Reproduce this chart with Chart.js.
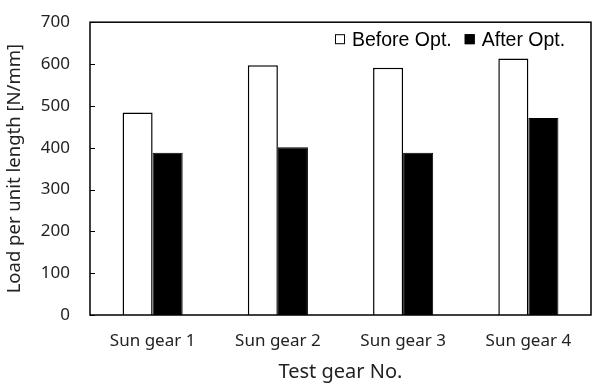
<!DOCTYPE html>
<html>
<head>
<meta charset="utf-8">
<script src="https://cdn.jsdelivr.net/npm/chart.js@4.4.0/dist/chart.umd.min.js"></script>
<style>
  html, body { margin: 0; padding: 0; background: #fff; }
  #chart { display: block; }
</style>
</head>
<body>
<canvas id="chart" width="599" height="386"></canvas>
<script>
// data
const gears = ['Sun gear 1', 'Sun gear 2', 'Sun gear 3', 'Sun gear 4'];
const beforeOpt = [484, 597, 591, 613];
const afterOpt = [388, 401, 388, 471];
const yTicks = [0, 100, 200, 300, 400, 500, 600, 700];

const labelFont = "'Noto Sans', 'DejaVu Sans', sans-serif";

// box round the plot, inward ticks on the y axis, legend inside the plot
const framePlugin = {
    id: 'frame',
    afterDatasetsDraw(chart) {
        const ctx = chart.ctx;
        const a = chart.chartArea;
        const y = chart.scales.y;
        ctx.save();
        ctx.strokeStyle = '#000';
        ctx.lineWidth = 1.5;
        ctx.strokeRect(a.left, a.top, a.right - a.left, a.bottom - a.top);
        ctx.lineWidth = 1;
        yTicks.forEach(v => {
            const py = Math.round(y.getPixelForValue(v)) + 0.5;
            ctx.beginPath();
            ctx.moveTo(a.left, py);
            ctx.lineTo(a.left + 5, py);
            ctx.stroke();
        });

        // legend
        ctx.font = "19.5px 'Liberation Sans', Arial, sans-serif";
        ctx.textBaseline = 'middle';
        const ly = a.top + 17;
        let lx = 335;
        chart.data.datasets.forEach(ds => {
            ctx.fillStyle = ds.backgroundColor;
            ctx.fillRect(lx, ly - 5, 10, 10);
            ctx.strokeStyle = '#000';
            ctx.lineWidth = 1;
            ctx.strokeRect(lx + 0.5, ly - 4.5, 9, 9);
            ctx.fillStyle = '#000';
            ctx.fillText(ds.label, lx + 17, ly + 1);
            lx += 17 + ctx.measureText(ds.label).width + 13;
        });
        ctx.restore();
    }
};

const ctx = document.getElementById('chart').getContext('2d');
new Chart(ctx, {
    type: 'bar',
    data: {
        labels: gears,
        datasets: [
            {
                label: 'Before Opt.',
                data: beforeOpt,
                backgroundColor: '#ffffff',
                borderColor: '#000000',
                borderWidth: 1.5
            },
            {
                label: 'After Opt.',
                data: afterOpt,
                backgroundColor: '#000000',
                borderColor: '#000000',
                borderWidth: 1
            }
        ]
    },
    options: {
        responsive: false,
        animation: false,
        layout: { padding: { top: 16, right: 8, left: 0, bottom: 0 } },
        datasets: {
            bar: { categoryPercentage: 0.48, barPercentage: 1.0 }
        },
        plugins: {
            legend: { display: false },
            tooltip: { enabled: false }
        },
        scales: {
            x: {
                grid: { display: false },
                border: { display: false },
                ticks: {
                    color: '#222',
                    font: { family: labelFont, size: 17 },
                    padding: 8
                },
                title: {
                    display: true,
                    text: 'Test gear No.',
                    color: '#222',
                    font: { family: labelFont, size: 20 },
                    padding: { top: 2, bottom: 2 }
                },
                afterFit(scale) { scale.height = 71; }
            },
            y: {
                min: 0,
                max: 700,
                afterBuildTicks(scale) { scale.ticks = yTicks.map(v => ({ value: v })); },
                grid: { display: false },
                border: { display: false },
                ticks: {
                    color: '#222',
                    font: { family: labelFont, size: 17 },
                    padding: 12
                },
                title: {
                    display: true,
                    text: 'Load per unit length [N/mm]',
                    color: '#222',
                    font: { family: labelFont, size: 18.5 },
                    padding: { top: 4, bottom: 6 }
                },
                afterFit(scale) { scale.width = 90; }
            }
        }
    },
    plugins: [framePlugin]
});
</script>
</body>
</html>
